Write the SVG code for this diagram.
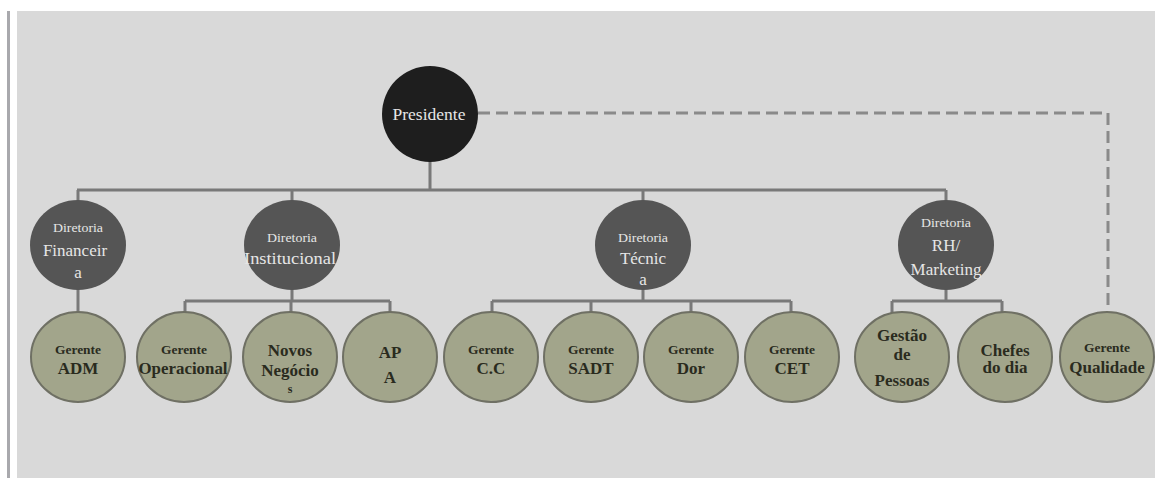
<svg xmlns="http://www.w3.org/2000/svg" width="1155" height="478" viewBox="0 0 1155 478">
<style>
.t{font-family:"Liberation Serif","Times New Roman",serif;text-anchor:middle}
.top{fill:#1e1e1e}
.dir{fill:#555555}
.ger{fill:#a2a58b;stroke:#6f7064;stroke-width:2}
.wt{fill:#e6e6e6}
.dk{fill:#2a2b1e;font-weight:bold}
.s{font-size:12px}
.m{font-size:17px}
.ln{fill:none;stroke:#797979;stroke-width:3}
.dash{fill:none;stroke:#8a8a8a;stroke-width:3;stroke-dasharray:12 6}
</style>
<rect x="0" y="0" width="1155" height="478" fill="#ffffff"/>
<rect x="17" y="11" width="1138" height="467" fill="#d9d9d9"/>
<rect x="7" y="11" width="3" height="467" fill="#a9a9ad"/>
<g id="connectors">
<path class="ln" d="M430 160V190M77 190H946M78 190V202M292 190V202M643 190V202M946 190V202"/>
<path class="ln" d="M78 288V313"/>
<path class="ln" d="M292 288V301M185 301H390M185 301V313M291 301V313M390 301V313"/>
<path class="ln" d="M643 288V301M492 301H791M492 301V313M591 301V313M691 301V313M791 301V313"/>
<path class="ln" d="M946 288V301M892 301H1002M892 301V313M1002 301V313"/>
<path class="dash" d="M478 113H1108V311"/>
</g>
<g id="presidente"><circle class="top" cx="430" cy="114" r="48"/><text class="t wt" x="429" y="120" font-size="17.5">Presidente</text></g>
<g id="dir-financeira"><ellipse class="dir" cx="78" cy="245" rx="48" ry="45"/><text class="t wt s" x="78" y="232" textLength="50" lengthAdjust="spacingAndGlyphs">Diretoria</text><text class="t wt m" x="75" y="256">Financeir</text><text class="t wt m" x="78" y="278">a</text></g>
<g id="dir-institucional"><ellipse class="dir" cx="292" cy="245" rx="48" ry="45"/><text class="t wt s" x="292" y="242" textLength="50" lengthAdjust="spacingAndGlyphs">Diretoria</text><text class="t wt m" x="290" y="264" textLength="92" lengthAdjust="spacingAndGlyphs">Institucional</text></g>
<g id="dir-tecnica"><ellipse class="dir" cx="643" cy="245" rx="48" ry="45"/><text class="t wt s" x="643" y="242" textLength="50" lengthAdjust="spacingAndGlyphs">Diretoria</text><text class="t wt m" x="643" y="264">Técnic</text><text class="t wt m" x="643" y="285">a</text></g>
<g id="dir-rh"><ellipse class="dir" cx="946" cy="245" rx="48" ry="45"/><text class="t wt s" x="946" y="227" textLength="50" lengthAdjust="spacingAndGlyphs">Diretoria</text><text class="t wt m" x="946" y="251">RH/</text><text class="t wt m" x="946" y="275">Marketing</text></g>
<g id="ger-adm"><ellipse class="ger" cx="78" cy="357" rx="47" ry="45"/><text class="t dk s" x="78" y="354" textLength="46" lengthAdjust="spacingAndGlyphs">Gerente</text><text class="t dk m" x="78" y="374">ADM</text></g>
<g id="ger-operacional"><ellipse class="ger" cx="184" cy="357" rx="47" ry="45"/><text class="t dk s" x="184" y="354" textLength="46" lengthAdjust="spacingAndGlyphs">Gerente</text><text class="t dk m" x="183" y="374" textLength="89" lengthAdjust="spacingAndGlyphs">Operacional</text></g>
<g id="novos-negocios"><ellipse class="ger" cx="290" cy="357" rx="47" ry="45"/><text class="t dk m" x="290" y="356">Novos</text><text class="t dk m" x="290" y="376">Negócio</text><text class="t dk s" x="290" y="393">s</text></g>
<g id="apa"><ellipse class="ger" cx="390" cy="357" rx="47" ry="45"/><text class="t dk m" x="390" y="358">AP</text><text class="t dk m" x="390" y="383">A</text></g>
<g id="ger-cc"><ellipse class="ger" cx="491" cy="357" rx="47" ry="45"/><text class="t dk s" x="491" y="354" textLength="46" lengthAdjust="spacingAndGlyphs">Gerente</text><text class="t dk m" x="491" y="374">C.C</text></g>
<g id="ger-sadt"><ellipse class="ger" cx="591" cy="357" rx="47" ry="45"/><text class="t dk s" x="591" y="354" textLength="46" lengthAdjust="spacingAndGlyphs">Gerente</text><text class="t dk m" x="591" y="374">SADT</text></g>
<g id="ger-dor"><ellipse class="ger" cx="691" cy="357" rx="47" ry="45"/><text class="t dk s" x="691" y="354" textLength="46" lengthAdjust="spacingAndGlyphs">Gerente</text><text class="t dk m" x="691" y="374">Dor</text></g>
<g id="ger-cet"><ellipse class="ger" cx="792" cy="357" rx="47" ry="45"/><text class="t dk s" x="792" y="354" textLength="46" lengthAdjust="spacingAndGlyphs">Gerente</text><text class="t dk m" x="792" y="374">CET</text></g>
<g id="gestao-pessoas"><ellipse class="ger" cx="902" cy="357" rx="47" ry="45"/><text class="t dk m" x="902" y="341">Gestão</text><text class="t dk m" x="902" y="360">de</text><text class="t dk m" x="902" y="386">Pessoas</text></g>
<g id="chefes-dia"><ellipse class="ger" cx="1005" cy="357" rx="47" ry="45"/><text class="t dk m" x="1005" y="356">Chefes</text><text class="t dk m" x="1005" y="373">do dia</text></g>
<g id="ger-qualidade"><ellipse class="ger" cx="1107" cy="357" rx="47" ry="45"/><text class="t dk s" x="1107" y="352" textLength="46" lengthAdjust="spacingAndGlyphs">Gerente</text><text class="t dk m" x="1107" y="373">Qualidade</text></g>
</svg>
